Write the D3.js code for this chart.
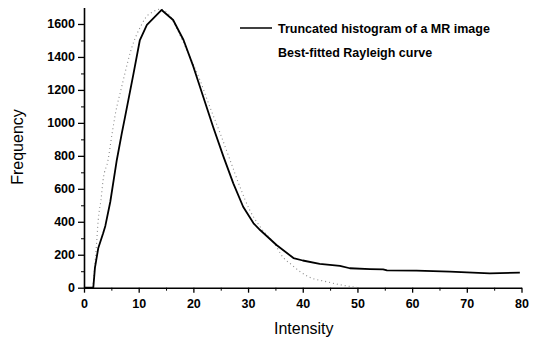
<!DOCTYPE html>
<html>
<head>
<meta charset="utf-8">
<script src="https://cdn.jsdelivr.net/npm/d3@7"></script>
<style>
  body { margin: 0; background: #fff; }
  svg { display: block; }
  .tick text { font-family: "Liberation Sans", Arial, sans-serif; font-size: 12.5px; font-weight: bold; fill: #000; }
  .axis path, .axis line { stroke: #000; }
  .axis-label { font-family: "Liberation Sans", Arial, sans-serif; font-size: 16px; fill: #000; }
  .legend { font-family: "Liberation Sans", Arial, sans-serif; font-size: 12.5px; font-weight: bold; fill: #000; }
</style>
</head>
<body>
<div id="chart"></div>
<script>
// histogram (solid): intensity, frequency
const histX = [0, 1.7, 2.0, 2.6, 3.5, 3.9, 4.8, 6.0, 6.9, 7.5, 9.0, 10.2, 11.5, 14.2, 16.3, 18.2, 20.0, 21.8, 23.6, 25.5, 27.3, 29.1, 31.0, 32.2, 35.2, 38.3, 40.0, 43.1, 46.8, 48.6, 52.3, 54.7, 55.4, 60.8, 66.9, 74.2, 79.7];
const histY = [0, 0, 120, 239, 330, 375, 520, 775, 935, 1035, 1290, 1500, 1594, 1685, 1624, 1503, 1341, 1159, 977, 795, 633, 491, 391, 350, 259, 180, 165, 144, 133, 118, 113, 111, 105, 103, 97, 87, 91];

// best-fitted Rayleigh curve (dotted)
const fitX = [1.6, 2.3, 2.6, 3.1, 3.5, 4.4, 5.1, 5.7, 6.9, 8.1, 8.7, 9.6, 10.5, 11.2, 12.7, 13.9, 15.5, 17.0, 18.8, 21.2, 23.0, 24.9, 26.7, 28.5, 30.3, 32.2, 35.2, 36.1, 38.0, 41.0, 44.4, 47.1, 49.9];
const fitY = [0, 269, 411, 532, 654, 775, 927, 1048, 1220, 1382, 1453, 1533, 1594, 1635, 1675, 1690, 1660, 1570, 1442, 1260, 1098, 937, 775, 613, 471, 370, 249, 198, 138, 67, 36, 16, 2];

const xTicks = [0, 10, 20, 30, 40, 50, 60, 70, 80];
const yTicks = [0, 200, 400, 600, 800, 1000, 1200, 1400, 1600];
const legendLabels = ["Truncated histogram of a MR image", "Best-fitted Rayleigh curve"];

const margin = { top: 7.5, right: 16.5, bottom: 53.3, left: 84 };
const width = 538 - margin.left - margin.right;
const height = 341 - margin.top - margin.bottom;

const svg = d3.select("#chart")
    .append("svg")
    .attr("width", 538)
    .attr("height", 341);

const g = svg.append("g")
    .attr("transform", `translate(${margin.left},${margin.top})`);

const x = d3.scaleLinear().domain([0, 80]).range([0, width]);
const y = d3.scaleLinear().domain([0, 1700]).range([height, 0]);

// minor ticks first
g.append("g")
    .attr("class", "axis")
    .attr("transform", `translate(0,${height})`)
    .call(d3.axisBottom(x).tickValues(d3.range(5, 80, 10)).tickSize(3).tickFormat(""))
    .call(a => a.select(".domain").remove());

g.append("g")
    .attr("class", "axis")
    .call(d3.axisLeft(y).tickValues(d3.range(100, 1700, 200)).tickSize(3).tickFormat(""))
    .call(a => a.select(".domain").remove());

g.append("g")
    .attr("class", "axis")
    .attr("transform", `translate(0,${height})`)
    .call(d3.axisBottom(x).tickValues(xTicks).tickSize(5).tickSizeOuter(0).tickPadding(6))
    .call(a => a.select(".domain").attr("stroke-width", 1.6))
    .call(a => a.selectAll(".tick line").attr("stroke-width", 1.3));

g.append("g")
    .attr("class", "axis")
    .call(d3.axisLeft(y).tickValues(yTicks).tickSize(6).tickSizeOuter(0).tickPadding(3).tickFormat(d3.format("d")))
    .call(a => a.select(".domain").attr("stroke-width", 1.6))
    .call(a => a.selectAll(".tick line").attr("stroke-width", 1.3));

const line = d3.line()
    .x(d => x(d[0]))
    .y(d => y(d[1]));

g.append("path")
    .datum(fitX.map((v, i) => [v, fitY[i]]))
    .attr("fill", "none")
    .attr("stroke", "#8a8a8a")
    .attr("stroke-width", 1.1)
    .attr("stroke-dasharray", "1,3")
    .attr("d", line.curve(d3.curveMonotoneX));

g.append("path")
    .datum(histX.map((v, i) => [v, histY[i]]))
    .attr("fill", "none")
    .attr("stroke", "#000")
    .attr("stroke-width", 1.8)
    .attr("stroke-linejoin", "round")
    .attr("d", line.curve(d3.curveLinear));

// legend
const legend = svg.append("g").attr("transform", "translate(240,28)");
legend.append("line")
    .attr("x1", 0).attr("x2", 32).attr("y1", 0).attr("y2", 0)
    .attr("stroke", "#000").attr("stroke-width", 1.5);
legend.selectAll("text.legend")
    .data(legendLabels)
    .enter().append("text")
    .attr("class", "legend")
    .attr("x", 38)
    .attr("y", (d, i) => 4.5 + i * 24)
    .text(d => d);

// axis titles
svg.append("text")
    .attr("class", "axis-label")
    .attr("text-anchor", "middle")
    .attr("x", margin.left + x(40) + 1)
    .attr("y", 334)
    .text("Intensity");

svg.append("text")
    .attr("class", "axis-label")
    .attr("text-anchor", "middle")
    .attr("transform", `translate(23,147) rotate(-90)`)
    .text("Frequency");
</script>
</body>
</html>
